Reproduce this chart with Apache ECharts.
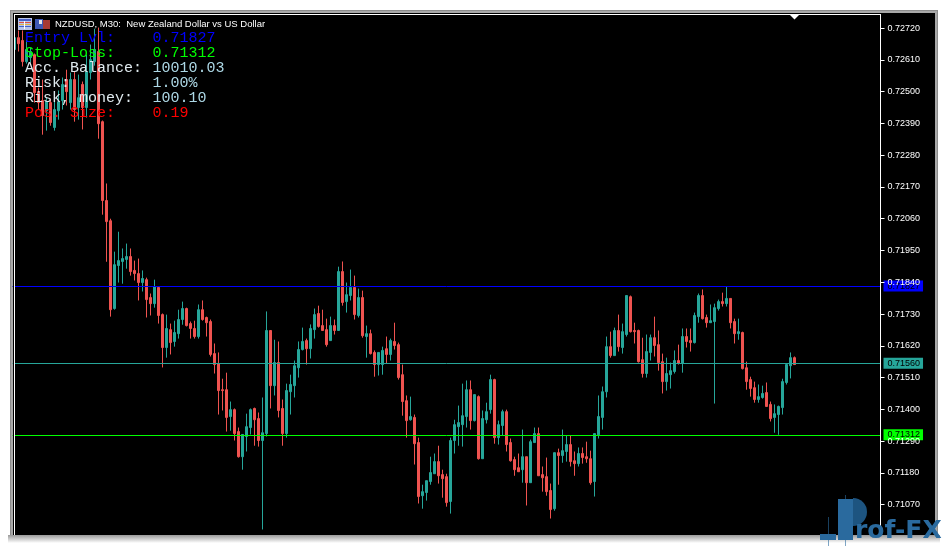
<!DOCTYPE html>
<html>
<head>
<meta charset="utf-8">
<style>html,body{margin:0;padding:0;background:#fff;}#c{width:947px;height:546px;}</style>
<script src="https://cdn.jsdelivr.net/npm/echarts@6/dist/echarts.min.js"></script>
</head>
<body>
<div id="c"></div>
<script>
// Prices in points (1 point = 0.00001)
const POINT = 0.00001;
const directions = ('TRRTTRRRTR'+'TTTRTRTRTT'+'TRRRRTTTTR'+'RRTRRTRRTR'+'TTTRRRTRRR'+'RRRRTRRTTT'+'RRTTRTRRTT'+'TTTRTTRRRT'+'RTRTTRTRTR'+'RTTRTRRRRT'+'RRTTTTRRRT'+'TTTTRTRTTT'+'RTTRRRRTRT'+'TRRRRTRTTR'+'RTRRRTTTTR'+'TRTTRRRRTT'+'RRRTTTRTRR'+'TTRRTTTRTR'+'RTRRRRTTRR'+'TTTTTR').split('');
const highs = [72691,72712,72712,72680,72653,72632,72514,72542,72479,72476,
72473,72504,72549,72576,72566,72569,72559,72535,72628,72663,
72718,72722,72400,72182,72060,71946,72015,71957,71974,71957,
71915,71922,71881,71856,71801,71849,71822,71732,71728,71697,
71707,71745,71773,71752,71704,71707,71763,71777,71721,71711,
71628,71597,71506,71527,71427,71403,71337,71313,71385,71403,
71406,71389,71441,71739,71673,71641,71635,71434,71489,71520,
71569,71635,71683,71645,71694,71749,71759,71745,71714,71721,
71711,71894,71912,71839,71884,71863,71818,71811,71690,71676,
71604,71597,71617,71652,71645,71700,71631,71555,71448,71444,
71382,71302,71139,71153,71236,71247,71274,71191,71177,71302,
71364,71413,71489,71500,71500,71451,71448,71396,71423,71520,
71506,71361,71399,71399,71299,71236,71247,71330,71236,71295,
71337,71337,71202,71233,71143,71250,71264,71330,71309,71309,
71254,71268,71268,71288,71257,71316,71448,71479,71652,71669,
71683,71728,71697,71794,71794,71700,71676,71648,71659,71659,
71721,71673,71593,71579,71562,71604,71624,71680,71680,71680,
71735,71801,71815,71728,71763,71766,71780,71804,71825,71784,
71714,71714,71669,71565,71513,71496,71486,71482,71493,71427,
71417,71413,71506,71559,71597,71583];
const bodyTops = [72687,72687,72677,72646,72639,72628,72500,72469,72465,72462,
72438,72465,72525,72542,72542,72542,72479,72525,72569,72611,
72646,72639,72396,72123,72053,71901,71915,71922,71929,71929,
71881,71870,71853,71849,71787,71825,71822,71728,71680,71676,
71666,71711,71749,71749,71697,71680,71745,71745,71718,71704,
71593,71559,71468,71468,71399,71399,71323,71313,71340,71399,
71403,71368,71319,71673,71673,71562,71562,71403,71465,71486,
71551,71607,71635,71638,71680,71728,71732,71690,71676,71690,
71690,71877,71877,71797,71822,71822,71787,71787,71662,71662,
71597,71597,71604,71610,71638,71635,71624,71520,71430,71375,
71372,71285,71115,71153,71181,71219,71219,71174,71167,71292,
71347,71354,71378,71468,71468,71451,71444,71368,71392,71503,
71503,71347,71392,71392,71285,71226,71198,71236,71236,71288,
71316,71316,71174,71167,71119,71250,71250,71257,71278,71278,
71222,71247,71247,71236,71229,71316,71375,71461,71617,71617,
71673,71673,71669,71794,71790,71673,71673,71572,71600,71648,
71648,71624,71565,71524,71534,71569,71569,71652,71652,71638,
71725,71794,71794,71718,71707,71752,71773,71773,71784,71784,
71704,71669,71666,71544,71503,71475,71444,71455,71458,71417,
71385,71410,71496,71555,71579,71579];
const bodyBottoms = [72646,72666,72604,72604,72618,72497,72462,72417,72434,72393,
72376,72434,72469,72500,72462,72438,72445,72445,72445,72566,
72604,72389,72123,72050,71745,71749,71898,71912,71919,71877,
71870,71839,71839,71780,71766,71766,71725,71614,71614,71631,
71635,71662,71711,71690,71680,71652,71652,71711,71700,71590,
71555,71465,71465,71372,71375,71316,71236,71236,71306,71337,
71364,71292,71292,71316,71482,71482,71396,71316,71316,71461,
71482,71544,71607,71610,71610,71676,71687,71673,71624,71638,
71673,71673,71770,71773,71794,71728,71725,71655,71652,71593,
71555,71555,71555,71590,71590,71621,71510,71427,71361,71364,
71281,71098,71101,71112,71150,71177,71170,71160,71077,71081,
71292,71340,71347,71375,71361,71361,71229,71229,71364,71399,
71302,71302,71344,71278,71222,71191,71184,71191,71146,71146,
71285,71170,71163,71115,71053,71056,71240,71240,71254,71219,
71212,71212,71233,71229,71146,71150,71312,71372,71461,71586,
71586,71617,71614,71659,71669,71669,71565,71524,71524,71597,
71621,71562,71496,71496,71520,71531,71559,71559,71635,71631,
71631,71721,71714,71700,71700,71704,71749,71766,71766,71700,
71662,71662,71541,71496,71472,71434,71434,71441,71410,71368,
71372,71382,71406,71493,71551,71555];
const lows = [72628,72639,72587,72597,72601,72462,72438,72351,72365,72382,
72365,72403,72438,72452,72438,72396,72403,72369,72410,72542,
72590,72337,72074,71911,71721,71745,71839,71835,71887,71863,
71846,71777,71808,71718,71725,71752,71697,71545,71579,71590,
71617,71645,71693,71687,71645,71645,71645,71707,71652,71583,
71524,71382,71396,71323,71326,71292,71233,71191,71254,71313,
71274,71271,70984,71306,71403,71448,71372,71274,71302,71382,
71441,71510,71604,71555,71576,71645,71683,71673,71617,71638,
71659,71673,71759,71735,71777,71711,71718,71648,71579,71590,
71513,71517,71520,71559,71569,71607,71503,71378,71302,71361,
71209,71074,71056,71084,71139,71177,71143,71094,71063,71039,
71247,71274,71271,71337,71330,71358,71226,71229,71351,71385,
71281,71278,71309,71254,71219,71170,71184,71146,71067,71146,
71285,71170,71115,71101,71022,71049,71139,71215,71219,71202,
71170,71202,71212,71215,71139,71098,71299,71330,71441,71579,
71586,71600,71593,71652,71666,71628,71562,71510,71510,71569,
71583,71534,71455,71465,71472,71524,71555,71527,71614,71600,
71628,71700,71711,71683,71700,71420,71742,71756,71756,71680,
71628,71641,71538,71468,71444,71423,71423,71437,71410,71358,
71319,71312,71382,71486,71507,71555];
const priceTicks = [0.72720,0.72610,0.72500,0.72390,0.72280,0.72170,0.72060,0.71950,0.71840,0.71730,0.71620,0.71510,0.71400,0.71290,0.71180,0.71070];
const priceLevels = [
  {value:0.71827, color:'#0000ff', width:1},
  {value:0.71560, color:'#26a69a', width:1},
  {value:0.71312, color:'#00ff00', width:1}
];
const infoLabels = ['Entry Lvl:','Stop-Loss:','Acc. Balance:','Risk:','Risk, money:','Pos. Size:'];
const infoValues = ['0.71827','0.71312','10010.03','1.00%','100.10','0.19'];
const infoLabelColors = ['#0000ff','#00ff00','#dfe9ee','#dfe9ee','#dfe9ee','#ff0000'];
const infoValueColors = ['#0000ff','#00ff00','#add8e6','#add8e6','#add8e6','#ff0000'];
const chartTitle = 'NZDUSD, M30:  New Zealand Dollar vs US Dollar';
const emptyBarsRight = 21;

const UP = '#26a69a', DOWN = '#ef5350';
const categories = directions.map((d,i)=>'bar '+(i+1));
for (let i=0;i<emptyBarsRight;i++) categories.push('');
const candles = directions.map((d,i)=>{
  const rising = d==='T';
  const open = (rising?bodyBottoms[i]:bodyTops[i])*POINT;
  const close = (rising?bodyTops[i]:bodyBottoms[i])*POINT;
  return [open, close, lows[i]*POINT, highs[i]*POINT];
});

const rect=(x,y,w,h,fill,z,extra)=>Object.assign({type:'rect',shape:{x,y,width:w,height:h},style:{fill},z,silent:true},extra||{});
const graphics = [
  rect(10,10,928,528,'#8c8c8c',-3),
  rect(11,11,926,526,'#a8a8a8',-3),
  rect(13,13,922,522,'#000000',-2),
  {type:'rect',shape:{x:8,y:535,width:932,height:8},style:{fill:new echarts.graphic.LinearGradient(0,0,0,1,[{offset:0,color:'#9a9a9a'},{offset:1,color:'#ffffff'}])},z:-2,silent:true},
  // frame over the plot
  rect(13,13,1,522,'#000000',20),
  rect(14,14,1,521,'#ffffff',20),
  rect(14,14,867,1,'#ffffff',20),
  // shift marker
  {type:'polygon',shape:{points:[[790,15],[799,15],[794.5,19.5]]},style:{fill:'#ffffff'},z:20,silent:true},
  // title icons
  rect(18,18,14,12,'#b8c4e8',20),
  rect(19,19,12,2,'#4a62c8',21),
  rect(19,22,12,1,'#e05040',21),
  rect(19,24,12,1,'#e0b040',21),
  rect(19,26,12,1,'#4060d0',21),
  rect(24,21,1,8,'#ffffff',21),
  rect(35,19,8,10,'#3e58b4',20),
  rect(43,20,7,9,'#a83a34',20),
  rect(39,20,3,4,'#e8e8e8',21),
  {type:'text',style:{x:55,y:24.5,text:chartTitle,fill:'#ffffff',font:'9.5px "Liberation Sans"',textVerticalAlign:'middle'},z:20,silent:true},
];
infoLabels.forEach((t,i)=>{
  const y = 38.3 + 15*i;
  graphics.push({type:'text',style:{x:25,y,text:t,fill:infoLabelColors[i],font:'15px "Liberation Mono"',textVerticalAlign:'middle'},z:22,silent:true});
  graphics.push({type:'text',style:{x:152.5,y,text:infoValues[i],fill:infoValueColors[i],font:'15px "Liberation Mono"',textVerticalAlign:'middle'},z:22,silent:true});
});
// watermark logo
const LOGO='#2a6a9e', LOGO2='#1d5480';
graphics.push(
  rect(820,534,16,6,LOGO,30),
  rect(828,517,1,29,LOGO,30,{style:{fill:LOGO,opacity:0.6}}),
  rect(845,495,1,51,LOGO,30,{style:{fill:LOGO,opacity:0.6}}),
  {type:'sector',shape:{cx:853,cy:512,r0:0,r:14,startAngle:-Math.PI/2,endAngle:Math.PI/2,clockwise:true},style:{fill:LOGO2},z:30,silent:true},
  rect(838,499,15,41,LOGO,31),
  {type:'text',style:{x:855,y:531,text:'rof-FX',fill:LOGO,font:'bold 25px "DejaVu Sans"',textVerticalAlign:'middle'},z:31,silent:true}
);

const chart = echarts.init(document.getElementById('c'),null,{renderer:'canvas'});
chart.setOption({
  animation:false,
  backgroundColor:'#ffffff',
  graphic:{elements:graphics},
  grid:{left:12.5,top:15,width:868,height:520,containLabel:false},
  xAxis:{type:'category',data:categories,boundaryGap:true,show:false},
  yAxis:{
    type:'value',position:'right',min:0.709649,max:0.727654,scale:true,z:10,
    axisLine:{show:true,onZero:false,lineStyle:{color:'#ffffff',width:1}},
    axisTick:{show:true,length:4,inside:false,lineStyle:{color:'#ffffff',width:1},customValues:priceTicks},
    axisLabel:{show:true,margin:7,color:'#ffffff',fontSize:9,fontFamily:'Liberation Sans',customValues:priceTicks,formatter:v=>v.toFixed(5)},
    splitLine:{show:false}
  },
  series:[{
    type:'candlestick',
    data:candles,
    barWidth:2,
    clip:true,
    itemStyle:{color:UP,color0:DOWN,borderColor:UP,borderColor0:DOWN,borderWidth:1},
    markLine:{
      silent:true,symbol:'none',animation:false,precision:5,
      data:priceLevels.map(l=>({
        yAxis:l.value,
        lineStyle:{color:l.color,width:l.width,type:'solid'},
        label:{show:true,position:'end',distance:3,formatter:l.value.toFixed(5),color:'#000000',backgroundColor:l.color,padding:[1,3,1,4],fontSize:9,fontFamily:'Liberation Sans'}
      }))
    }
  }]
});
</script>
</body>
</html>
